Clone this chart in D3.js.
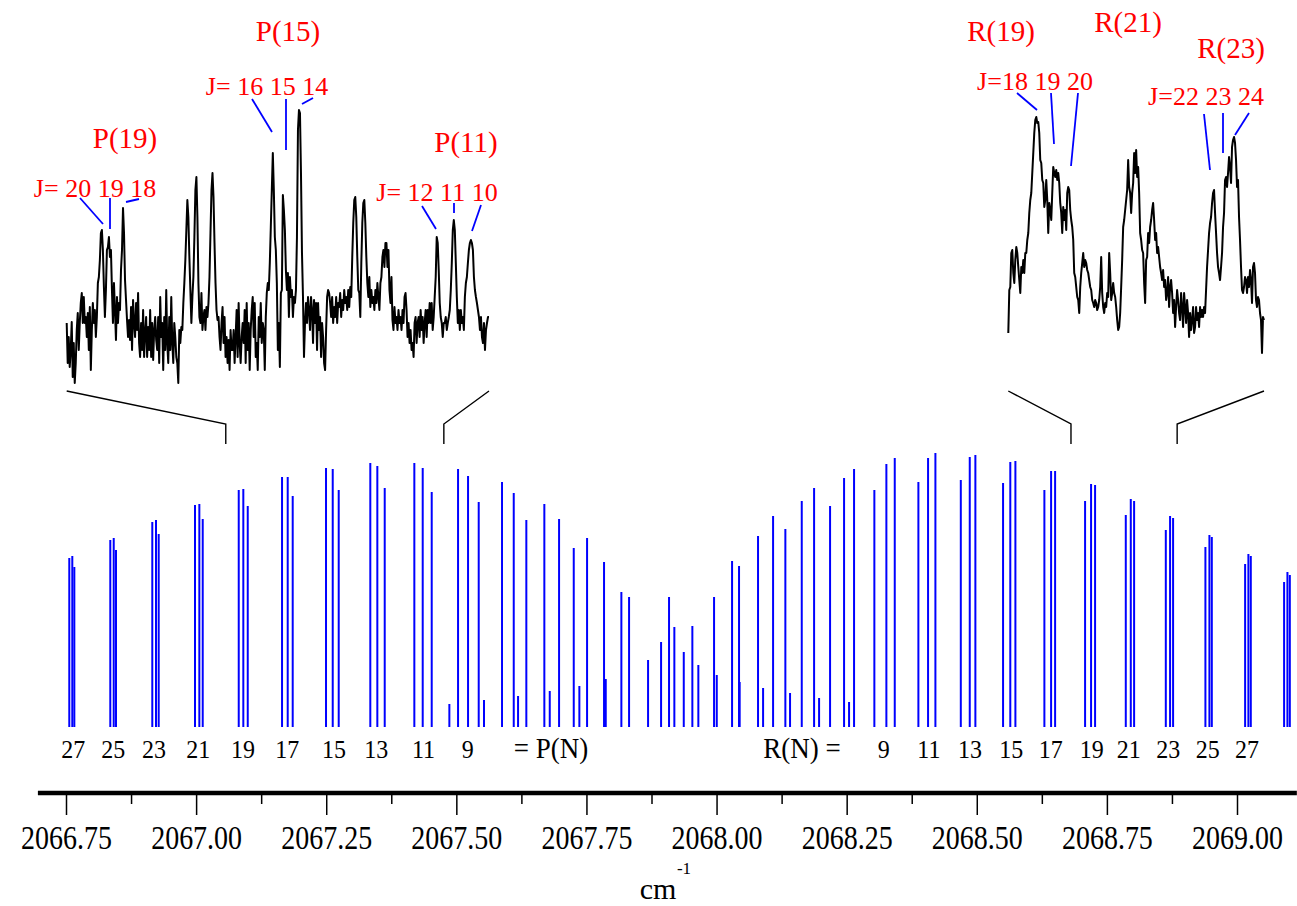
<!DOCTYPE html>
<html>
<head>
<meta charset="utf-8">
<script src="https://cdn.jsdelivr.net/npm/d3@7"></script>
<style>
  body { margin: 0; background: #fff; }
  text { font-family: "Liberation Serif", "Times New Roman", serif; }
</style>
</head>
<body>
<svg id="chart" width="1297" height="906"></svg>
<script>
// ---- data ----
// calculated stick spectrum: line positions (cm-1) and relative intensities
const stickPos = [
  2066.7563, 2066.7621, 2066.7660, 2066.8351, 2066.8417, 2066.8461, 2066.9158, 2066.9229, 2066.9281,
  2066.9979, 2067.0062, 2067.0127, 2067.0819, 2067.0907, 2067.0992, 2067.1651, 2067.1760, 2067.1856,
  2067.2496, 2067.2625, 2067.2740, 2067.3347, 2067.3482, 2067.3624, 2067.4193, 2067.4354, 2067.4527,
  2067.4866, 2067.5033, 2067.5225, 2067.5430, 2067.5532, 2067.5878, 2067.6103, 2067.6186, 2067.6345,
  2067.6691, 2067.6795, 2067.6974, 2067.7256, 2067.7364, 2067.7512, 2067.7838, 2067.7871, 2067.8171,
  2067.8319, 2067.8684, 2067.8934, 2067.9087, 2067.9189, 2067.9370, 2067.9535, 2067.9650, 2067.9952,
  2068.0004, 2068.0298, 2068.0432, 2068.0444, 2068.0797, 2068.0894, 2068.1086, 2068.1322, 2068.1412,
  2068.1637, 2068.1874, 2068.1970, 2068.2181, 2068.2450, 2068.2546, 2068.2642, 2068.3032, 2068.3263,
  2068.3424, 2068.3878, 2068.4064, 2068.4205, 2068.4693, 2068.4865, 2068.4973, 2068.5505, 2068.5644,
  2068.5742, 2068.6299, 2068.6428, 2068.6505, 2068.7081, 2068.7196, 2068.7273, 2068.7863, 2068.7959,
  2068.8023, 2068.8632, 2068.8714, 2068.8772, 2068.9393, 2068.9470, 2068.9516, 2069.0156, 2069.0219,
  2069.0265, 2069.0905, 2069.0969, 2069.1015
];
const stickInt = [
  169, 171, 160, 187, 189, 177, 205, 207, 193,
  222, 223, 208, 237, 238, 221, 250, 250, 231,
  259, 258, 237, 264, 261, 239, 264, 259, 235,
  23, 258, 251, 225, 27, 245, 234, 31, 207,
  223, 36, 208, 179, 41, 189, 165, 48, 135,
  130, 67, 85, 130, 100, 75, 101, 62, 130,
  52, 166, 161, 45, 191, 39, 211, 198, 34,
  226, 239, 29, 221, 249, 25, 258, 237, 263,
  269, 245, 269, 274, 247, 270, 272, 244, 265,
  266, 237, 256, 256, 226, 243, 242, 212, 228,
  226, 197, 211, 209, 180, 192, 190, 163, 173,
  171, 145, 155, 152
];

// labels under the stick spectrum
const pLabels = ['27', '25', '23', '21', '19', '17', '15', '13', '11', '9', '= P(N)'];
const pLabelPos = [2066.764, 2066.841, 2066.919, 2067.004, 2067.090, 2067.175, 2067.265, 2067.346, 2067.437, 2067.522, 2067.682];
const rLabels = ['R(N) =', '9', '11', '13', '15', '17', '19', '21', '23', '25', '27'];
const rLabelPos = [2068.164, 2068.321, 2068.408, 2068.487, 2068.566, 2068.642, 2068.721, 2068.792, 2068.868, 2068.944, 2069.019];

// axis ticks
const majorTicks = [2066.75, 2067.00, 2067.25, 2067.50, 2067.75, 2068.00, 2068.25, 2068.50, 2068.75, 2069.00];
const minorTicks = [2066.875, 2067.125, 2067.375, 2067.625, 2067.875, 2068.125, 2068.375, 2068.625, 2068.875];
const axisExtent = [2066.696, 2069.115];

// measured spectra (insets): wavenumber windows and signal, evenly sampled
const leftWindow = [2067.057, 2067.476];
const leftTrace = [
  67,27,53,23,40,68,13,47,7,27,60,77,40,
  67,87,97,67,93,67,73,53,77,40,83,20,60,87,67,80,53,73,107,113,130,157,160,140,103,73,100,140,143,153,133,140,
  100,67,107,80,50,93,67,87,80,120,140,182,157,110,90,70,53,70,50,83,40,90,67,53,87,60,97,47,33,67,40,80,33,57,
  73,33,63,40,80,33,67,30,60,73,50,40,73,27,93,53,67,20,73,40,100,47,27,73,40,93,47,27,67,53,33,27,7,60,47,63,
  60,87,107,130,160,190,173,133,100,67,93,113,153,200,213,173,107,73,67,97,60,73,80,60,83,73,87,113,157,200,217,
  193,147,107,80,70,73,53,40,67,83,47,73,33,53,27,50,20,60,40,40,60,27,53,80,33,87,47,27,53,67,47,80,27,87,40,
  67,20,60,80,93,53,87,33,47,20,73,53,87,47,67,60,20,73,97,107,100,127,163,200,237,200,153,140,107,40,67,23,97,100,
  195,180,160,120,100,117,73,113,93,100,73,93,87,100,153,260,
  280,277,217,137,93,33,
  67,87,67,93,80,60,93,80,47,90,67,87,40,87,60,73,33,67,53,27,20,60,93,100,97,87,73,93,67,83,73,93,67,87,83,97,
  73,90,80,100,87,93,80,100,83,103,93,133,167,190,193,173,133,100,97,73,127,167,187,190,167,133,107,93,113,83,100,
  87,93,80,100,87,107,93,80,107,113,133,140,123,147,147,123,140,100,87,113,70,60,83,67,73,60,80,67,73,60,80,67,93,
  97,80,53,67,47,60,40,47,33,67,73,47,67,73,53,80,60,73,47,67,80,53,80,67,87,67,87,60,73,93,113,153,147,120,87,73,
  67,53,67,67,73,60,67,73,80,100,127,160,170,160,127,93,67,80,60,80,67,73,60,93,107,113,127,140,147,150,147,140,
  113,100,93,87,80,73,60,73,53,47,67,40,60,67,73,73
];
const rightWindow = [2068.681, 2068.885];
const rightTrace = [
  27,70,73,107,110,87,77,100,113,107,93,80,67,93,87,100,87,107,107,120,127,147,160,167,187,207,227,240,243,237,238,
  227,200,197,180,177,153,160,180,160,127,157,150,140,167,193,187,183,190,180,187,177,157,147,127,153,140,150,130,
  167,173,170,150,140,133,120,87,83,73,63,60,47,73,87,97,107,93,100,97,90,87,80,73,70,60,57,53,60,57,50,53,60,73,
  103,67,53,47,57,53,67,63,107,87,60,67,77,67,63,53,40,30,33,47,73,100,133,140,150,160,170,200,173,167,147,167,177,
  207,187,210,183,193,167,127,120,110,107,77,57,100,103,127,117,133,140,150,157,140,120,127,107,113,103,93,87,80,90,
  73,80,60,67,83,53,73,80,67,47,60,33,53,70,60,47,40,67,53,33,67,53,37,60,47,23,47,30,40,53,27,33,53,40,47,33,53,43,
  50,43,53,47,70,93,110,127,137,143,157,167,170,147,127,107,93,87,80,93,107,133,147,180,183,173,187,203,193,177,213,
  220,223,217,200,173,180,143,120,93,70,67,73,83,80,67,83,73,90,80,57,93,97,87,60,53,63,60,47,40,7,43,40
];

// peak annotations (layout)
const bigLabels = [
  { t: 'P(19)', x: 125, y: 148 }, { t: 'P(15)', x: 288, y: 41 }, { t: 'P(11)', x: 466, y: 152 },
  { t: 'R(19)', x: 1001, y: 41 }, { t: 'R(21)', x: 1128, y: 32 }, { t: 'R(23)', x: 1231, y: 58 }
];
const jLabels = [
  { t: 'J= 20 19 18', x: 95, y: 197 }, { t: 'J= 16 15 14', x: 267, y: 95 }, { t: 'J= 12 11 10', x: 437, y: 201 },
  { t: 'J=18 19 20', x: 1035, y: 90 }, { t: 'J=22 23 24', x: 1206, y: 105 }
];
const leaders = [
  [80, 198, 103, 224], [110, 198, 110, 229], [126, 202, 139, 199],
  [252, 99, 272, 132], [286, 99, 286, 150], [302, 104, 313, 98],
  [422, 206, 436, 229], [454, 203, 454, 213], [481, 205, 472, 231],
  [1017, 93, 1037, 110], [1051, 93, 1054, 144], [1078, 93, 1071, 166],
  [1204, 114, 1210, 170], [1223, 113, 1223, 153], [1249, 113, 1235, 135]
];

// ---- drawing ----
const svg = d3.select('#chart');
const x = d3.scaleLinear().domain([2066.75, 2069.0]).range([66, 1237]);
const yStick = d3.scaleLinear().domain([0, 280]).range([727, 447]);

// stick spectrum
svg.append('g').selectAll('line')
  .data(stickPos.map((v, i) => ({ v: v, h: stickInt[i] })))
  .join('line')
  .attr('x1', d => x(d.v)).attr('x2', d => x(d.v))
  .attr('y1', yStick(0)).attr('y2', d => yStick(d.h))
  .attr('stroke', '#0000ff').attr('stroke-width', 2);

// N labels under the sticks
function nLabels(texts, pos) {
  svg.append('g').selectAll('text')
    .data(texts.map((t, i) => ({ t: t, v: pos[i] })))
    .join('text')
    .attr('transform', d => `translate(${x(d.v)},758) scale(1,1.08)`)
    .attr('text-anchor', 'middle')
    .attr('font-size', d => d.t.length > 2 ? 27 : 24)
    .attr('fill', '#000')
    .text(d => d.t);
}
nLabels(pLabels, pLabelPos);
nLabels(rLabels, rLabelPos);

// bottom axis
const axisY = 793;
svg.append('line')
  .attr('x1', x(axisExtent[0])).attr('x2', x(axisExtent[1]))
  .attr('y1', axisY).attr('y2', axisY)
  .attr('stroke', '#000').attr('stroke-width', 4.5);

const gMajor = svg.append('g').attr('transform', `translate(0,${axisY})`)
  .call(d3.axisBottom(x).tickValues(majorTicks).tickSize(22).tickFormat(d3.format('.2f')));
const gMinor = svg.append('g').attr('transform', `translate(0,${axisY})`)
  .call(d3.axisBottom(x).tickValues(minorTicks).tickSize(11).tickFormat(''));
[gMajor, gMinor].forEach(g => {
  g.select('.domain').remove();
  g.selectAll('.tick line').attr('stroke', '#000').attr('stroke-width', 1.5);
});
gMajor.selectAll('.tick text')
  .attr('y', null).attr('dy', null)
  .attr('transform', 'translate(0,56) scale(1,1.2)')
  .attr('font-size', 28)
  .attr('font-family', '"Liberation Serif", serif')
  .attr('fill', '#000');

svg.append('text').attr('x', 658).attr('y', 899).attr('text-anchor', 'middle')
  .attr('font-size', 30).text('cm');
svg.append('text').attr('x', 684).attr('y', 874).attr('text-anchor', 'middle')
  .attr('font-size', 17).text('-1');

// inset spectra
function inset(trace, win, xr, base, top, maxI) {
  const xi = d3.scaleLinear().domain([0, trace.length - 1]).range(xr);
  const yi = d3.scaleLinear().domain([0, maxI]).range([base, top]);
  svg.append('path')
    .datum(trace)
    .attr('d', d3.line().x((d, i) => xi(i)).y(d => yi(d)))
    .attr('fill', 'none').attr('stroke', '#000')
    .attr('stroke-width', 2).attr('stroke-linejoin', 'round');
  // zoom connectors from the inset ends to the wavenumber window
  const conn = d3.line();
  [[xr[0], win[0]], [xr[1], win[1]]].forEach(([px, v]) => {
    svg.append('path')
      .attr('d', conn([[px, 391], [x(v), 424], [x(v), 444]]))
      .attr('fill', 'none').attr('stroke', '#000').attr('stroke-width', 1.4);
  });
}
inset(leftTrace, leftWindow, [66.7, 489], 390, 90, 300);
inset(rightTrace, rightWindow, [1008.3, 1264], 360, 100, 260);

// annotations
svg.append('g').selectAll('line').data(leaders).join('line')
  .attr('x1', d => d[0]).attr('y1', d => d[1]).attr('x2', d => d[2]).attr('y2', d => d[3])
  .attr('stroke', '#0000ff').attr('stroke-width', 1.8);

svg.append('g').selectAll('text').data(bigLabels).join('text')
  .attr('x', d => d.x).attr('y', d => d.y).attr('text-anchor', 'middle')
  .attr('font-size', 29).attr('fill', '#ff0000').text(d => d.t);
svg.append('g').selectAll('text').data(jLabels).join('text')
  .attr('x', d => d.x).attr('y', d => d.y).attr('text-anchor', 'middle')
  .attr('font-size', 26).attr('fill', '#ff0000').text(d => d.t);
</script>
</body>
</html>
